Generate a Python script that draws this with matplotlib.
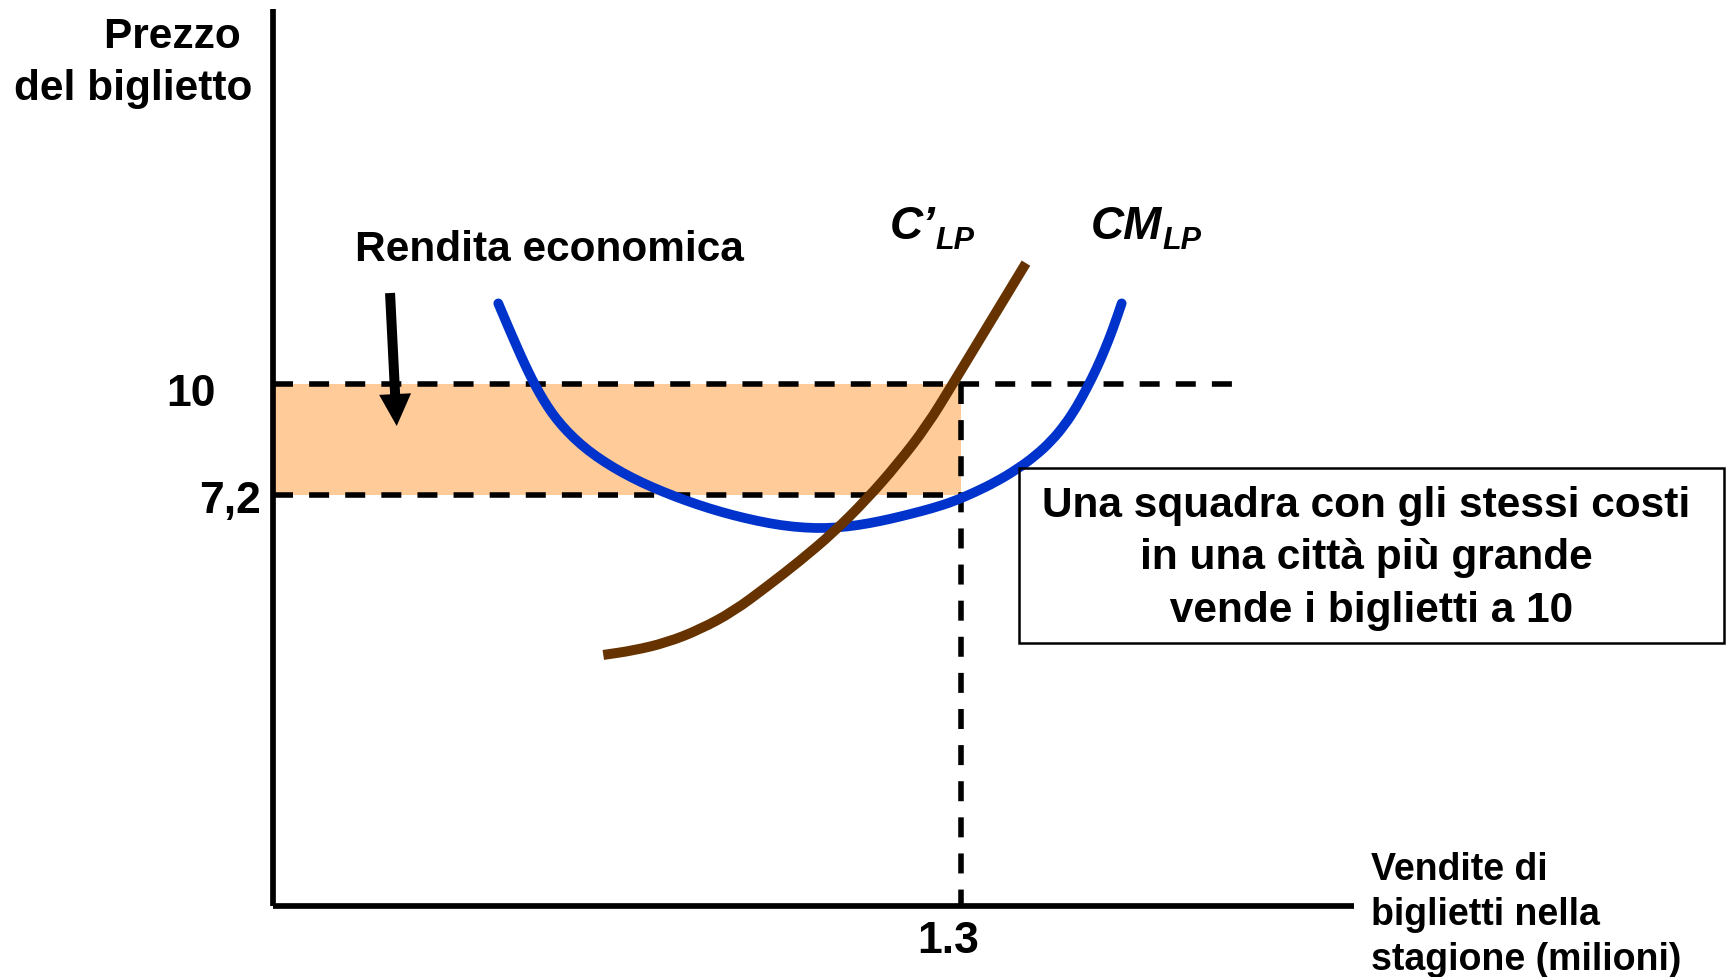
import matplotlib
matplotlib.use("Agg")
import matplotlib.pyplot as plt
import matplotlib.transforms as mtransforms
from matplotlib.patches import Rectangle, PathPatch
from matplotlib.path import Path

plt.rcParams['font.family'] = ['Liberation Sans', 'DejaVu Sans']
plt.rcParams['font.weight'] = 'bold'

# ---------------- data ----------------
# Long-run average cost curve (CM_LP)
cm_q = [0.4254, 0.4413, 0.4560, 0.4696, 0.4830, 0.4960, 0.5100, 0.5260,
        0.5450, 0.5680, 0.5950, 0.6260, 0.6600, 0.6970, 0.7370, 0.7800,
        0.8250, 0.8700, 0.9150, 0.9600, 1.0050, 1.0450, 1.0850, 1.1250,
        1.1650, 1.2050, 1.2450, 1.2850, 1.3250, 1.3650, 1.4050, 1.4400,
        1.4700, 1.4950, 1.5170, 1.5370, 1.5550, 1.5710, 1.5860, 1.6025]
cm_p = [12.01, 11.51, 11.06, 10.65, 10.27, 9.93, 9.60, 9.27,
        8.95, 8.63, 8.32, 8.03, 7.76, 7.51, 7.28, 7.06,
        6.86, 6.69, 6.55, 6.44, 6.38, 6.37, 6.41, 6.49,
        6.60, 6.73, 6.87, 7.04, 7.27, 7.53, 7.85, 8.19,
        8.56, 8.96, 9.40, 9.89, 10.37, 10.86, 11.37, 12.01]

# Long-run marginal cost curve (C'_LP)
mc_q = [0.6237, 0.6803, 0.7434, 0.8063, 0.8692, 0.9322, 0.9951, 1.0580,
        1.1200, 1.1800, 1.2350, 1.2840, 1.3510, 1.4218]
mc_p = [3.19, 3.30, 3.50, 3.83, 4.28, 4.90, 5.55, 6.26,
        7.08, 7.99, 8.94, 10.00, 11.47, 13.02]

market_price = 10
min_cost_price = 7.2
quantity = 1.3

price_ticks = [7.2, 10]
price_tick_labels = ['7,2', '10']
qty_ticks = [1.3]
qty_tick_labels = ['1.3']


def smooth_path(xs, ys):
    """Quadratic Bezier path through the midpoints of the read points."""
    pts = list(zip(xs, ys))
    verts = [pts[0]]
    codes = [Path.MOVETO]
    mid = lambda a, b: ((a[0] + b[0]) / 2, (a[1] + b[1]) / 2)
    verts.append(mid(pts[0], pts[1]))
    codes.append(Path.LINETO)
    for i in range(1, len(pts) - 1):
        verts += [pts[i], mid(pts[i], pts[i + 1])]
        codes += [Path.CURVE3, Path.CURVE3]
    verts.append(pts[-1])
    codes.append(Path.LINETO)
    return Path(verts, codes)


# ---------------- figure ----------------
W, H = 1733, 977
fig = plt.figure(figsize=(W / 100, H / 100), dpi=100)
ax = fig.add_axes([273 / W, 71 / H, 1081 / W, 897 / H])
ax.set_xlim(0, 2.0412)
ax.set_ylim(-3.109, 19.396)

for s in ['top', 'right']:
    ax.spines[s].set_visible(False)
for s in ['left', 'bottom']:
    ax.spines[s].set_linewidth(4.1)
    ax.spines[s].set_color('black')
    ax.spines[s].set_zorder(6)
    ax.spines[s].set_capstyle('butt')

# economic rent area
ax.fill_between([0, quantity], min_cost_price, market_price,
                color='#FFCC99', lw=0, zorder=1)

dash_kw = dict(color='black', lw=4.0, dashes=(3.6, 2.9), zorder=2,
               solid_capstyle='butt', dash_capstyle='butt')
ax.plot([0, 1.811], [market_price, market_price], **dash_kw)
ax.plot([0, quantity], [min_cost_price, min_cost_price], **dash_kw)
ax.plot([quantity, quantity], [market_price, -3.109], **dash_kw)

# curves
cm_patch = PathPatch(smooth_path(cm_q, cm_p), fill=False, edgecolor='#0033CC',
                     lw=7.0, capstyle='round', joinstyle='round', zorder=4)
ax.add_patch(cm_patch)
mc_patch = PathPatch(smooth_path(mc_q, mc_p), fill=False, edgecolor='#663300',
                     lw=7.2, capstyle='butt', joinstyle='round', zorder=5)
ax.add_patch(mc_patch)

# arrow
ax.annotate('', xy=(0.2336, 8.934), xytext=(0.221, 12.27),
            arrowprops=dict(arrowstyle='simple,head_length=2.3,head_width=2.3,tail_width=0.72',
                            mutation_scale=10, lw=0, color='black',
                            shrinkA=0, shrinkB=0), zorder=6)

ax.text(0.154, 13.08, 'Rendita economica', fontsize=30.5, fontweight='bold',
        ha='left', va='baseline')

# curve labels
t1 = ax.text(1.164, 13.62, 'C\u2019', fontsize=33, fontweight='bold',
             fontstyle='italic', ha='left', va='baseline')
ax.annotate('LP', xy=(1, 0), xycoords=t1, fontsize=22, fontweight='bold',
            fontstyle='italic', ha='left', va='baseline')
t2 = ax.text(1.545, 13.62, 'CM', fontsize=33, fontweight='bold',
             fontstyle='italic', ha='left', va='baseline')
ax.annotate('LP', xy=(1, 0), xycoords=t2, fontsize=22, fontweight='bold',
            fontstyle='italic', ha='left', va='baseline')

# ticks
ax.set_yticks(price_ticks, price_tick_labels)
ax.set_xticks(qty_ticks, qty_tick_labels)
ax.tick_params(axis='y', length=0, pad=8.6, labelsize=32)
ax.tick_params(axis='x', length=0, pad=10.5, labelsize=32)
for lbl in ax.get_yticklabels():
    lbl.set_fontweight('bold')
    if lbl.get_text() == '10':
        off = mtransforms.ScaledTranslation(-0.455, -0.065, fig.dpi_scale_trans)
    else:
        off = mtransforms.ScaledTranslation(0, -0.02, fig.dpi_scale_trans)
    lbl.set_transform(lbl.get_transform() + off)
for lbl in ax.get_xticklabels():
    lbl.set_fontweight('bold')
    off = mtransforms.ScaledTranslation(-0.135, 0, fig.dpi_scale_trans)
    lbl.set_transform(lbl.get_transform() + off)

# axis labels
ax.set_ylabel('Prezzo \ndel biglietto', rotation=0, ha='right', va='center',
              multialignment='right', linespacing=1.4, fontsize=30.5,
              fontweight='bold')
ax.yaxis.set_label_coords(-0.0194, 0.9400)
ax.set_xlabel('Vendite di\nbiglietti nella\nstagione (milioni)', ha='left',
              va='center', multialignment='left', linespacing=1.32,
              fontsize=27, fontweight='bold')
ax.xaxis.set_label_coords(1.0153, -0.0102)

# note box
fig.patches.append(Rectangle((1019 / W, 1 - 643 / H), 705 / W, 175.5 / H,
                             transform=fig.transFigure, fill=False,
                             edgecolor='black', lw=1.8))
fig.text(1366 / W, 1 - 558.5 / H,
         'Una squadra con gli stessi costi\nin una citt\u00e0 pi\u00f9 grande\n vende i biglietti a 10',
         ha='center', va='center', multialignment='center', linespacing=1.4,
         fontsize=30.5, fontweight='bold')

fig.savefig('out.png', dpi=100)
